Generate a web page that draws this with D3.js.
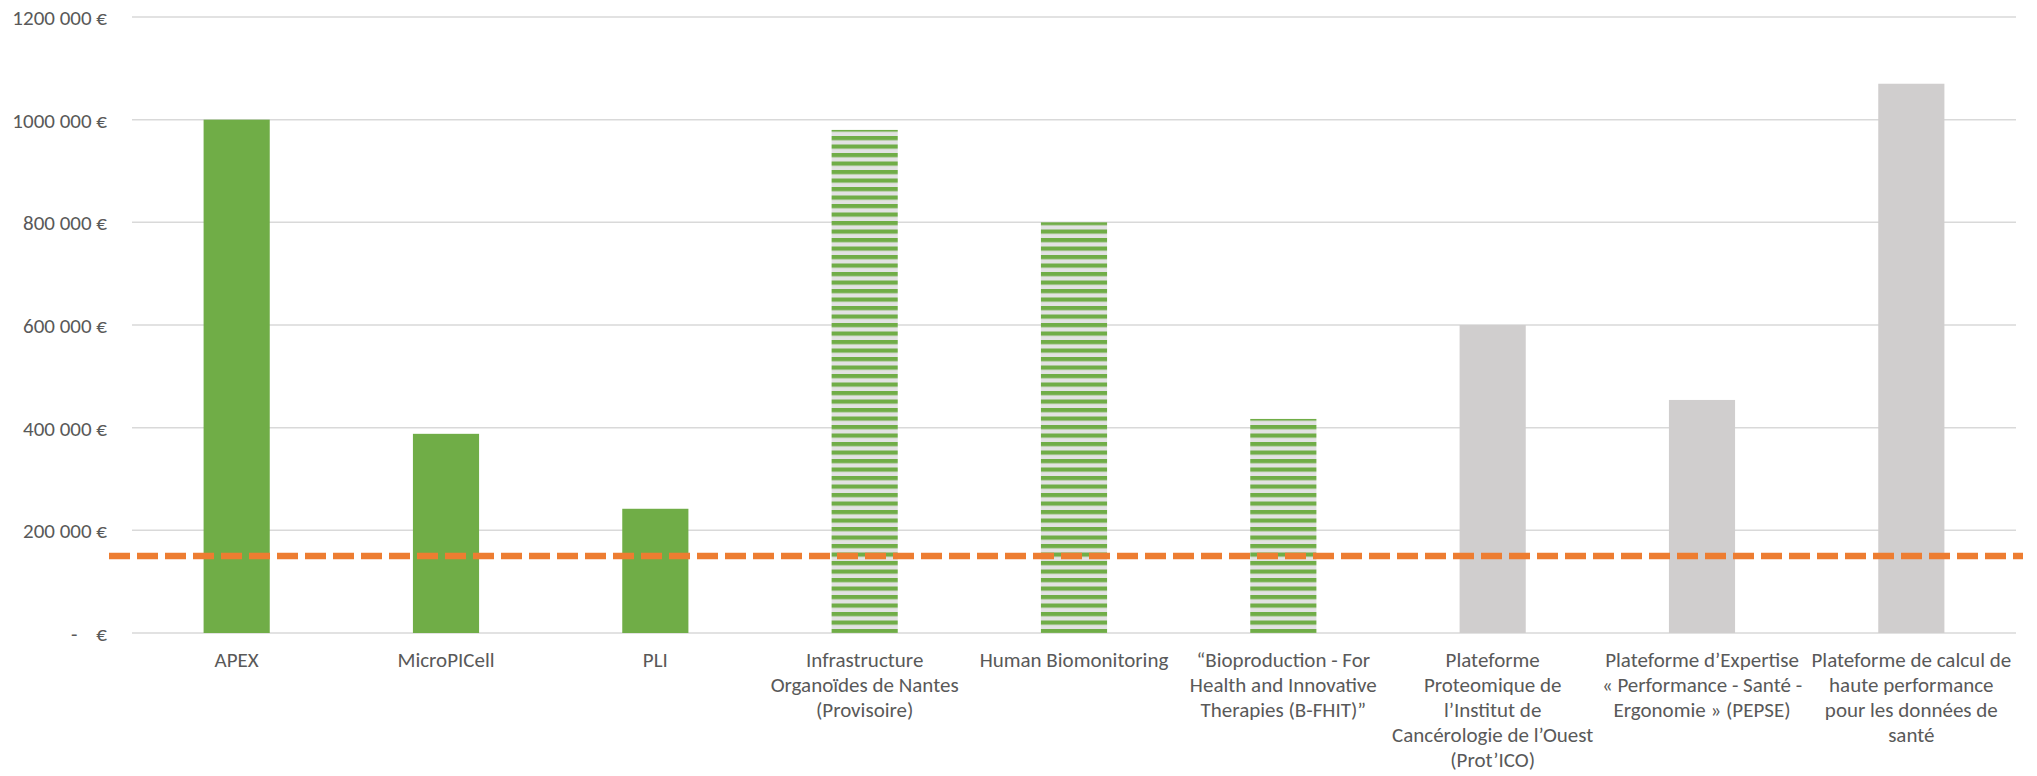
<!DOCTYPE html>
<html>
<head>
<meta charset="utf-8">
<script src="https://cdn.jsdelivr.net/npm/d3@7"></script>
<style>
  body { margin: 0; background: #fff; }
  text { font-family: Carlito, Calibri, Lato, sans-serif; fill: #595959; }
</style>
</head>
<body>
<script>
// data
var categories = [
  'APEX',
  'MicroPICell',
  'PLI',
  'Infrastructure\nOrganoïdes de Nantes\n(Provisoire)',
  'Human Biomonitoring',
  '“Bioproduction - For\nHealth and Innovative\nTherapies (B-FHIT)”',
  'Plateforme\nProteomique de\nl’Institut de\nCancérologie de l’Ouest\n(Prot’ICO)',
  'Plateforme d’Expertise\n« Performance - Santé -\nErgonomie » (PEPSE)',
  'Plateforme de calcul de\nhaute performance\npour les données de\nsanté'
];
var amounts = [1000000, 388000, 242000, 980000, 800000, 417000, 600000, 454000, 1070000];
var groups = ['solid', 'solid', 'solid', 'hatch', 'hatch', 'hatch', 'grey', 'grey', 'grey'];
var yTicks = [0, 200000, 400000, 600000, 800000, 1000000, 1200000];
var threshold = 150000;

var width = 2037, height = 776;

var svg = d3.select('body').append('svg')
  .attr('width', width)
  .attr('height', height);

// stripe pattern for the hatched bars
var pat = svg.append('defs').append('pattern')
  .attr('id', 'hatch')
  .attr('patternUnits', 'userSpaceOnUse')
  .attr('width', 10)
  .attr('height', 8.5);
pat.append('rect').attr('width', 10).attr('height', 8.5).attr('fill', '#e2e2e2');
pat.append('rect').attr('width', 10).attr('height', 4.2).attr('fill', '#70ad47');

var x = d3.scaleBand()
  .domain(categories)
  .range([132, 2016])
  .paddingInner(0.684)
  .paddingOuter(0.342);

var y = d3.scaleLinear()
  .domain([0, 1200000])
  .range([633, 17]);

var fill = d3.scaleOrdinal()
  .domain(['solid', 'hatch', 'grey'])
  .range(['#70ad47', 'url(#hatch)', '#d0cece']);

function money(v) {
  if (v === 0) return '-\u00a0\u00a0\u00a0\u00a0€';
  var th = Math.floor(v / 1000), rest = v % 1000;
  return th + ' ' + d3.format('03d')(rest) + ' €';
}

// gridlines
svg.append('g')
  .selectAll('line')
  .data(yTicks)
  .enter()
  .append('line')
  .attr('x1', 132)
  .attr('x2', 2016)
  .attr('y1', function (d) { return y(d); })
  .attr('y2', function (d) { return y(d); })
  .attr('stroke', '#d9d9d9')
  .attr('stroke-width', 1.5);

// y axis labels
var yAxis = svg.append('g')
  .attr('transform', 'translate(107,0)')
  .call(d3.axisLeft(y).tickValues(yTicks).tickFormat(money).tickSize(0).tickPadding(0));
yAxis.select('.domain').remove();
yAxis.selectAll('text')
  .attr('font-size', 21)
  .style('font-size', '21px')
  .attr('dy', '0.35em')
  .style('white-space', 'pre');

// bars
svg.append('g')
  .selectAll('rect')
  .data(amounts)
  .enter()
  .append('rect')
  .attr('x', function (d, i) { return x(categories[i]); })
  .attr('y', function (d) { return y(d); })
  .attr('width', x.bandwidth())
  .attr('height', function (d) { return y(0) - y(d); })
  .attr('fill', function (d, i) { return fill(groups[i]); });

// threshold line
svg.append('line')
  .attr('x1', 109)
  .attr('x2', 2023)
  .attr('y1', y(threshold))
  .attr('y2', y(threshold))
  .attr('stroke', '#ed7d31')
  .attr('stroke-width', 6.5)
  .attr('stroke-dasharray', '21,7');

// category labels
var lab = svg.append('g')
  .selectAll('text')
  .data(categories)
  .enter()
  .append('text')
  .attr('text-anchor', 'middle')
  .style('font-size', '21px')
  .attr('x', function (d) { return x(d) + x.bandwidth() / 2; })
  .attr('y', 667);

lab.selectAll('tspan')
  .data(function (d) { return d.split('\n'); })
  .enter()
  .append('tspan')
  .attr('x', function () { return this.parentNode.getAttribute('x'); })
  .attr('dy', function (d, i) { return i === 0 ? 0 : 25; })
  .text(function (d) { return d; });
</script>
</body>
</html>
